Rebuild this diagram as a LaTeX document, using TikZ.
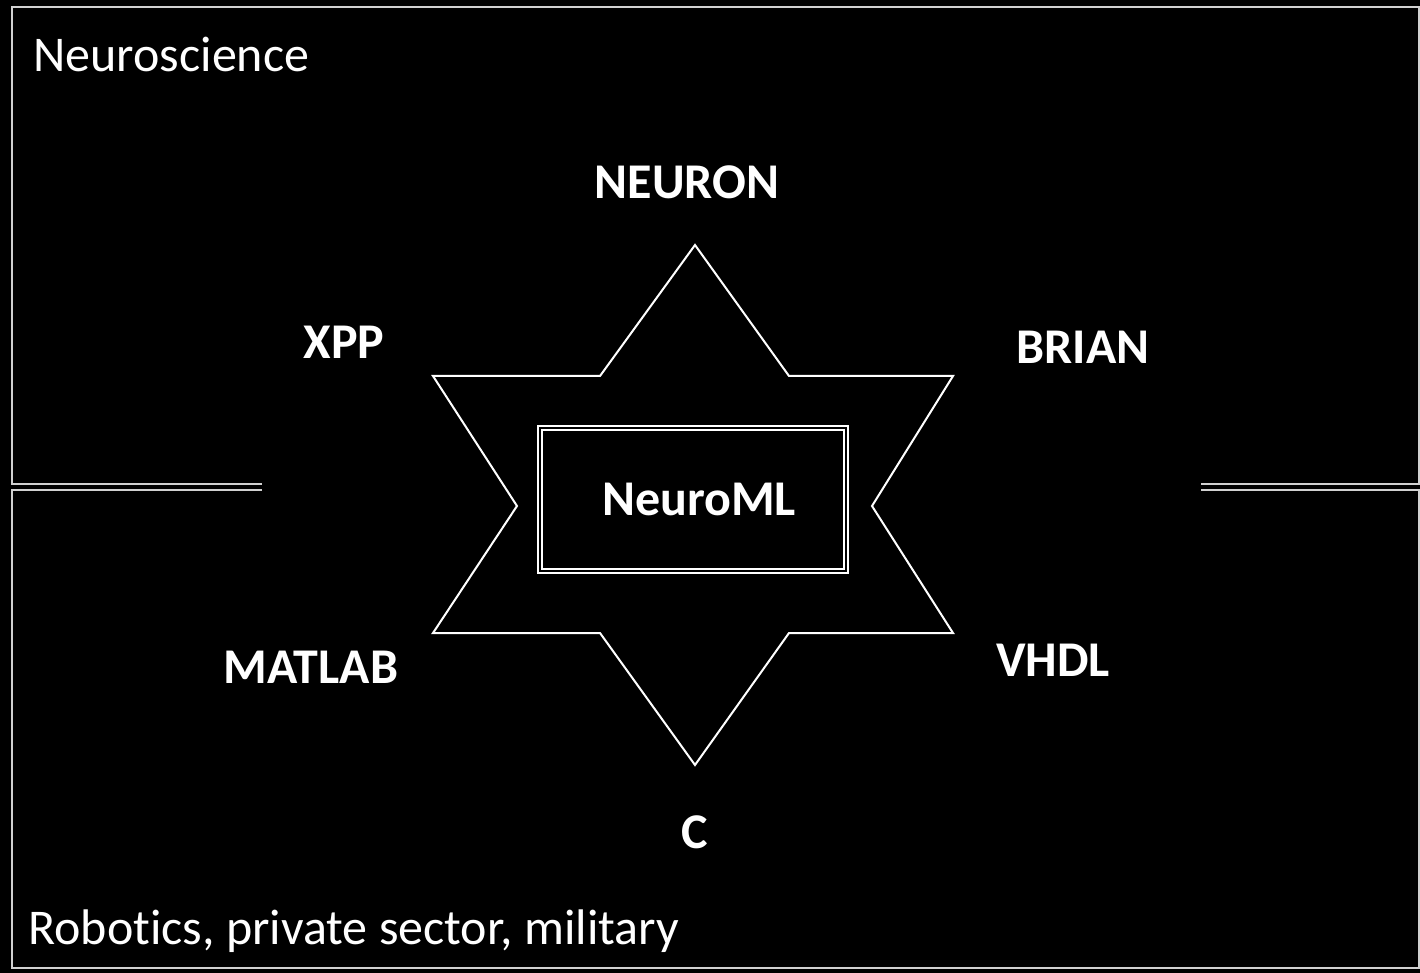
\documentclass[tikz,border=0pt]{standalone}
\usepackage{fontspec}
\setmainfont{Carlito}[Ligatures=NoCommon]
\begin{document}
\begin{tikzpicture}[x=0.5pt,y=-0.5pt,
  frame/.style={draw=white!82!black, line width=1.25pt},
  starline/.style={draw=white, line width=1pt},
  lang/.style={font=\fontsize{25}{30}\selectfont\bfseries, text=white, inner sep=0pt},
  area/.style={font=\fontsize{25}{30}\selectfont, text=white, inner sep=0pt, anchor=base west},
  dbox/.style={draw=white, double=black, double distance=1pt, line width=1pt, inner sep=0pt}]
\fill[black] (0,0) rectangle (1420,973);
\useasboundingbox (0,0) rectangle (1420,973);
% two areas
\draw[frame] (262,484) -- (12,484) -- (12,7) -- (1419,7) -- (1419,484) -- (1201,484);
\draw[frame] (262,490) -- (12,490) -- (12,968) -- (1419,968) -- (1419,490) -- (1201,490);
% star
\draw[starline] (695,245) -- (789,376) -- (953,376) -- (872,506) -- (953,633) -- (789,633)
  -- (695,765) -- (600,633) -- (433,633) -- (517,506) -- (433,376) -- (600,376) -- cycle;
% centre box
\node[dbox, minimum width=153pt, minimum height=71pt] (box) at (692.5,499.5) {};
\node[lang] (nml) at (699,499) {NeuroML};
% labels
\node[lang] (neuron) at (687,182) {NEURON};
\node[lang] (xpp) at (344,342) {XPP};
\node[lang] (brian) at (1083,347) {BRIAN};
\node[lang] (matlab) at (311,667) {MATLAB};
\node[lang] (vhdl) at (1053,660) {VHDL};
\node[lang] (c) at (695,832) {C};
\node[area] (neuro) at (33,72) {Neuroscience};
\node[area] (robot) at (28,944) {Robotics, private sector, military};
\end{tikzpicture}
\end{document}
